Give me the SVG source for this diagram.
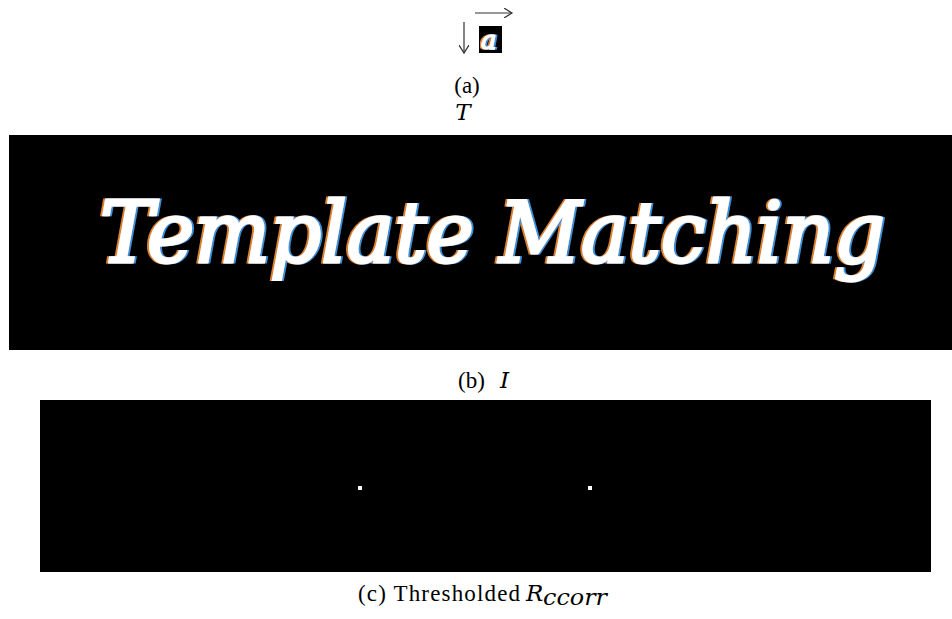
<svg xmlns="http://www.w3.org/2000/svg" width="952" height="619" viewBox="0 0 952 619">
<style>
.cap{font-family:"Liberation Serif","DejaVu Serif",serif;font-size:23px;fill:#000}
.it{font-family:"DejaVu Serif",serif;font-style:italic}
.big{font-family:"DejaVu Serif",serif;font-style:italic;fill:#fff;stroke:#fff}
</style>
<defs>
<marker id="ah" markerWidth="10" markerHeight="10" refX="8" refY="5" orient="auto" markerUnits="userSpaceOnUse">
<path d="M0,0 L8,5 L0,10" fill="none" stroke="#333" stroke-width="1.2"/>
</marker>
<filter id="fringe" x="-5%" y="-20%" width="110%" height="140%">
<feFlood flood-color="#d9822b" result="o"/>
<feComposite in="o" in2="SourceAlpha" operator="in" result="oa"/>
<feOffset in="oa" dx="-2" dy="0" result="oo"/>
<feFlood flood-color="#3d8fd6" result="b"/>
<feComposite in="b" in2="SourceAlpha" operator="in" result="ba"/>
<feOffset in="ba" dx="2" dy="0" result="bo"/>
<feMerge><feMergeNode in="oo"/><feMergeNode in="bo"/><feMergeNode in="SourceGraphic"/></feMerge>
</filter>
</defs>
<rect width="952" height="619" fill="#fff"/>
<g id="template">
<line x1="464" y1="22" x2="464" y2="53" stroke="#333" stroke-width="1.2" marker-end="url(#ah)"/>
<line x1="475" y1="13" x2="512" y2="13" stroke="#333" stroke-width="1.2" marker-end="url(#ah)"/>
<rect x="479" y="26" width="23" height="27" fill="#000"/>
<text x="481" y="49" class="big" font-size="26" stroke-width="1.5" filter="url(#fringe)">a</text>
<text x="467" y="93" class="cap" text-anchor="middle">(a)</text>
<text x="463" y="120" class="cap it" font-size="21" text-anchor="middle">T</text>
</g>
<g id="image">
<rect x="9" y="135" width="943" height="215" fill="#000"/>
<text x="100" y="262" class="big" font-size="84" stroke-width="3" filter="url(#fringe)" textLength="785" lengthAdjust="spacingAndGlyphs">Template Matching</text>
<text x="458" y="388" class="cap">(b)</text>
<text x="500" y="388" class="cap it" font-size="21">I</text>
</g>
<g id="result">
<rect x="40" y="400" width="891" height="172" fill="#000"/>
<rect x="358" y="486" width="4" height="4" fill="#fff"/>
<rect x="588" y="486" width="4" height="4" fill="#fff"/>
<text x="358" y="601" class="cap" textLength="162">(c) Thresholded</text>
<text x="526" y="601" class="cap it" font-size="21">R</text>
<text x="543" y="605" class="cap it" font-size="14" textLength="64" lengthAdjust="spacingAndGlyphs">ccorr</text>
</g>
<g id="connectors"></g>
</svg>
